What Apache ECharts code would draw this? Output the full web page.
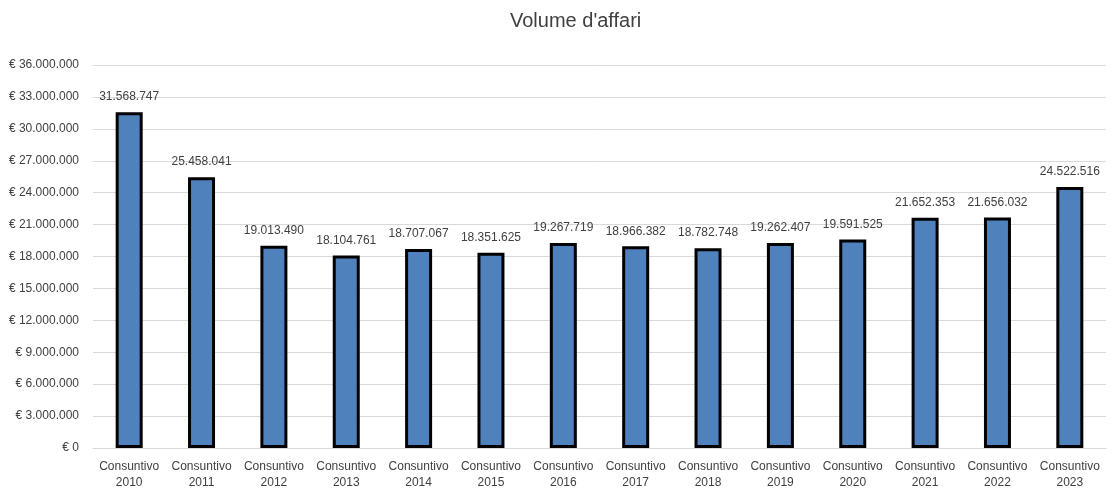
<!DOCTYPE html>
<html>
<head>
<meta charset="utf-8">
<script src="https://cdn.jsdelivr.net/npm/echarts@6/dist/echarts.min.js"></script>
<style>
  html, body { margin: 0; padding: 0; background: #fff; }
  #chart { width: 1114px; height: 491px; }
</style>
</head>
<body>
<div id="chart"></div>
<script>
const years = ['2010', '2011', '2012', '2013', '2014', '2015', '2016', '2017', '2018', '2019', '2020', '2021', '2022', '2023']
const categories = years.map(y => 'Consuntivo\n' + y)
const volumeAffari = [31568747, 25458041, 19013490, 18104761, 18707067, 18351625, 19267719, 18966382, 18782748, 19262407, 19591525, 21652353, 21656032, 24522516]

const fmt = v => String(Math.round(v)).replace(/\B(?=(\d{3})+(?!\d))/g, '.')
const font = '"Liberation Sans", Arial, sans-serif'

const chart = echarts.init(document.getElementById('chart'))
chart.setOption({
  animation: false,
  textStyle: { fontFamily: font },
  title: {
    text: "Volume d'affari",
    left: 505,
    top: 6,
    textStyle: { fontFamily: font, fontSize: 20, fontWeight: 'normal', color: '#404040' }
  },
  grid: { left: 93, right: 8, top: 65, bottom: 38, containLabel: false },
  xAxis: {
    type: 'category',
    data: categories,
    axisLine: { lineStyle: { color: '#d9d9d9' } },
    axisTick: { show: false },
    axisLabel: { color: '#404040', fontSize: 12, lineHeight: 16, margin: 11, interval: 0 }
  },
  yAxis: {
    type: 'value',
    min: 0,
    max: 36000000,
    interval: 3000000,
    axisLine: { show: false },
    axisTick: { show: false },
    splitLine: { lineStyle: { color: '#d9d9d9' } },
    axisLabel: { color: '#404040', fontSize: 12, margin: 14, formatter: v => '€ ' + fmt(v) }
  },
  series: [{
    type: 'bar',
    data: volumeAffari,
    barWidth: 27,
    itemStyle: { color: '#4f81bd', borderColor: '#000', borderWidth: 3 },
    label: {
      show: true,
      position: 'top',
      distance: 9,
      color: '#404040',
      fontSize: 12,
      formatter: p => fmt(p.value)
    }
  }]
})
</script>
</body>
</html>
